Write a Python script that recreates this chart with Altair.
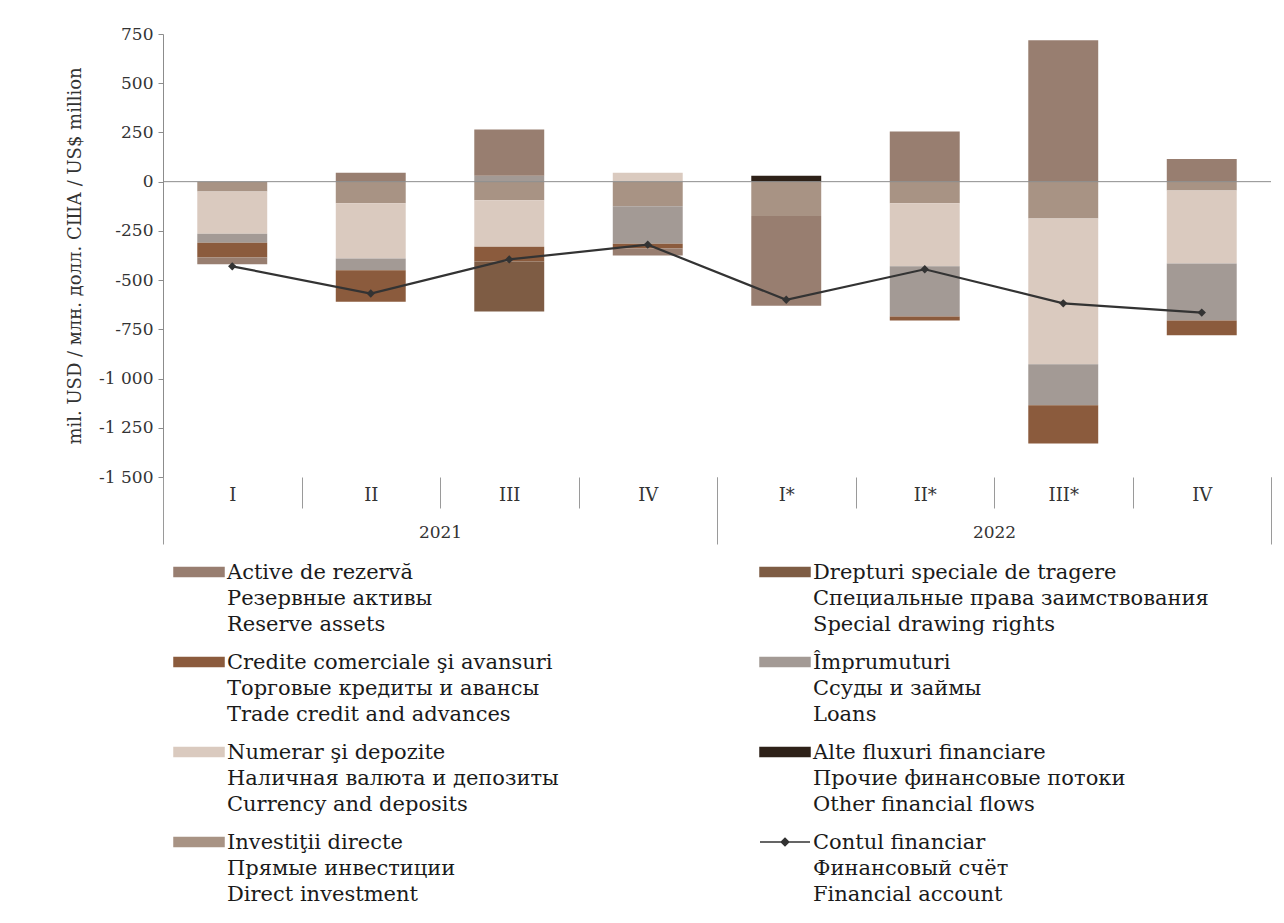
import altair as alt
import pandas as pd

# ---------------- data ----------------
q_keys = ["2021 I", "2021 II", "2021 III", "2021 IV", "2022 I*", "2022 II*", "2022 III*", "2022 IV"]
years = ["2021", "2022"]

series_ro = ["Investiţii directe", "Numerar şi depozite", "Împrumuturi",
             "Credite comerciale şi avansuri", "Active de rezervă",
             "Drepturi speciale de tragere", "Alte fluxuri financiare"]
line_ro = "Contul financiar"

direct_inv = [-50, -110, -95, -125, -175, -110, -187, -45]
currency   = [-215, -280, -235, 45, 0, -320, -740, -370]
loans      = [-45, -60, 30, -190, 0, -255, -208, -290]
trade      = [-75, -160, -75, -25, 0, -20, -195, -75]
reserve    = [-35, 45, 235, -35, -455, 255, 718, 115]
sdr        = [0, 0, -255, 0, 0, 0, 0, 0]
other      = [0, 0, 0, 0, 30, 0, 0, 0]
fin_account = [-430, -568, -395, -320, -600, -445, -618, -665]

legend_order = ["Active de rezervă", "Drepturi speciale de tragere",
                "Credite comerciale şi avansuri", "Împrumuturi",
                "Numerar şi depozite", "Alte fluxuri financiare",
                "Investiţii directe", "Contul financiar"]
legend_ru = ["Резервные активы", "Специальные права заимствования",
             "Торговые кредиты и авансы", "Ссуды и займы",
             "Наличная валюта и депозиты", "Прочие финансовые потоки",
             "Прямые инвестиции", "Финансовый счёт"]
legend_en = ["Reserve assets", "Special drawing rights",
             "Trade credit and advances", "Loans",
             "Currency and deposits", "Other financial flows",
             "Direct investment", "Financial account"]

colors = {
    "Investiţii directe": "#a89384",
    "Numerar şi depozite": "#dacabf",
    "Împrumuturi": "#a39a95",
    "Credite comerciale şi avansuri": "#8b5b3d",
    "Active de rezervă": "#987e70",
    "Drepturi speciale de tragere": "#7e5c44",
    "Alte fluxuri financiare": "#2e2118",
    "Contul financiar": "#333333",
}

FONT = "DejaVu Serif"

# ---------------- tables ----------------
series_vals = [direct_inv, currency, loans, trade, reserve, sdr, other]
rows = []
for k, (name, vals) in enumerate(zip(series_ro, series_vals)):
    for q, v in zip(q_keys, vals):
        rows.append({"q": q, "series": name, "value": v, "ord": k})
df = pd.DataFrame(rows)
df_line = pd.DataFrame({"q": q_keys, "value": fin_account, "series": line_ro})
df_zero = pd.DataFrame({"v": [0]})
df_years = pd.DataFrame({"year": years})
df_leg = pd.DataFrame({
    "series": legend_order,
    "label": [a + "\n" + b + "\n" + c for a, b, c in zip(legend_order, legend_ru, legend_en)],
    "i": list(range(len(legend_order))),
})

color_scale = alt.Scale(domain=list(colors.keys()), range=list(colors.values()))

W, H = 1108, 443

x_q = alt.X("q:N", sort=q_keys, title=None,
            scale=alt.Scale(paddingInner=0, paddingOuter=0),
            axis=alt.Axis(orient="bottom", tickBand="extent", tickSize=31, tickColor="#9a9a9a",
                          domain=False, labelPadding=-13, labelBaseline="middle", labelAngle=0,
                          labelFont=FONT, labelFontSize=18, labelColor="#333333",
                          labelExpr="split(datum.label, ' ')[1]"))

y_enc = alt.Y("value:Q", stack="zero",
              scale=alt.Scale(domain=[-1500, 750], nice=False, zero=False),
              axis=alt.Axis(values=list(range(-1500, 751, 250)), grid=False,
                            domainColor="#8c8c8c", tickColor="#8c8c8c", tickSize=5,
                            labelFont=FONT, labelFontSize=17, labelColor="#333333", labelPadding=5,
                            labelExpr="(datum.value < 0 ? '-' : '') + replace(format(abs(datum.value), ','), ',', ' ')",
                            title="mil. USD / млн. долл. США / US$ million",
                            titleFont=FONT, titleFontSize=18, titleFontWeight="normal",
                            titleColor="#333333", titlePadding=14))

bars = alt.Chart(df).transform_filter("datum.value != 0").mark_bar(
    width=alt.RelativeBandSize(0.505)
).encode(
    x=x_q,
    y=y_enc,
    color=alt.Color("series:N", scale=color_scale, legend=None),
    order=alt.Order("ord:Q", sort="ascending"),
)

zero = alt.Chart(df_zero).mark_rule(color="#8c8c8c", strokeWidth=1).encode(y=alt.Y("v:Q"))

line = alt.Chart(df_line).mark_line(
    color="#333333", strokeWidth=2.2,
    point=alt.OverlayMarkDef(shape="diamond", size=70, filled=True, color="#333333"),
).encode(
    x=alt.X("q:N", sort=q_keys),
    y=alt.Y("value:Q"),
)

year_layer = alt.Chart(df_years).mark_point(opacity=0).encode(
    x=alt.X("year:N", title=None,
            scale=alt.Scale(type="band", paddingInner=0, paddingOuter=0),
            axis=alt.Axis(orient="bottom", tickBand="extent", tickSize=67, tickColor="#9a9a9a",
                          domain=False, labelPadding=-12, labelBaseline="middle", labelAngle=0,
                          labelFont=FONT, labelFontSize=17, labelColor="#333333"))
)

top = alt.layer(alt.layer(bars, zero, line), year_layer).resolve_scale(
    x="independent").resolve_axis(x="independent").properties(width=W, height=H)

# ---------------- legend view ----------------
rect_path = "M-1,-0.18H1V0.18H-1Z"
line_path = "M-1,0H1M0,-0.15L0.15,0L0,0.15L-0.15,0Z"
shape_scale = alt.Scale(domain=legend_order,
                        range=[rect_path] * 7 + [line_path])

leg_base = alt.Chart(df_leg).transform_calculate(
    col="datum.i % 2", row="floor(datum.i / 2)"
)
lx = alt.X("col:Q", scale=alt.Scale(domain=[0, 1], range=[36, 622]), axis=None)
ly = alt.Y("row:Q", scale=alt.Scale(domain=[0, 3], range=[22, 292]), axis=None)

swatch = leg_base.mark_point(filled=True, size=2500, opacity=1, strokeWidth=1.5).encode(
    x=lx, y=ly,
    shape=alt.Shape("series:N", scale=shape_scale, legend=None),
    fill=alt.Fill("series:N", scale=color_scale, legend=None),
    stroke=alt.Stroke("series:N", scale=color_scale, legend=None),
)
texts = leg_base.mark_text(align="left", baseline="middle", dx=28, dy=1, lineHeight=26,
                           lineBreak="\n", font=FONT, fontSize=21, color="#1a1a1a").encode(
    x=lx, y=ly, text="label:N")

legend_view = alt.layer(swatch, texts).properties(width=W, height=340)

chart = alt.vconcat(top, legend_view, spacing=5).properties(
    padding={"left": 58, "top": 17, "right": 0, "bottom": 0}
).configure_view(stroke=None)

chart.save("out.html", embed_options={"renderer": "svg", "actions": False})
